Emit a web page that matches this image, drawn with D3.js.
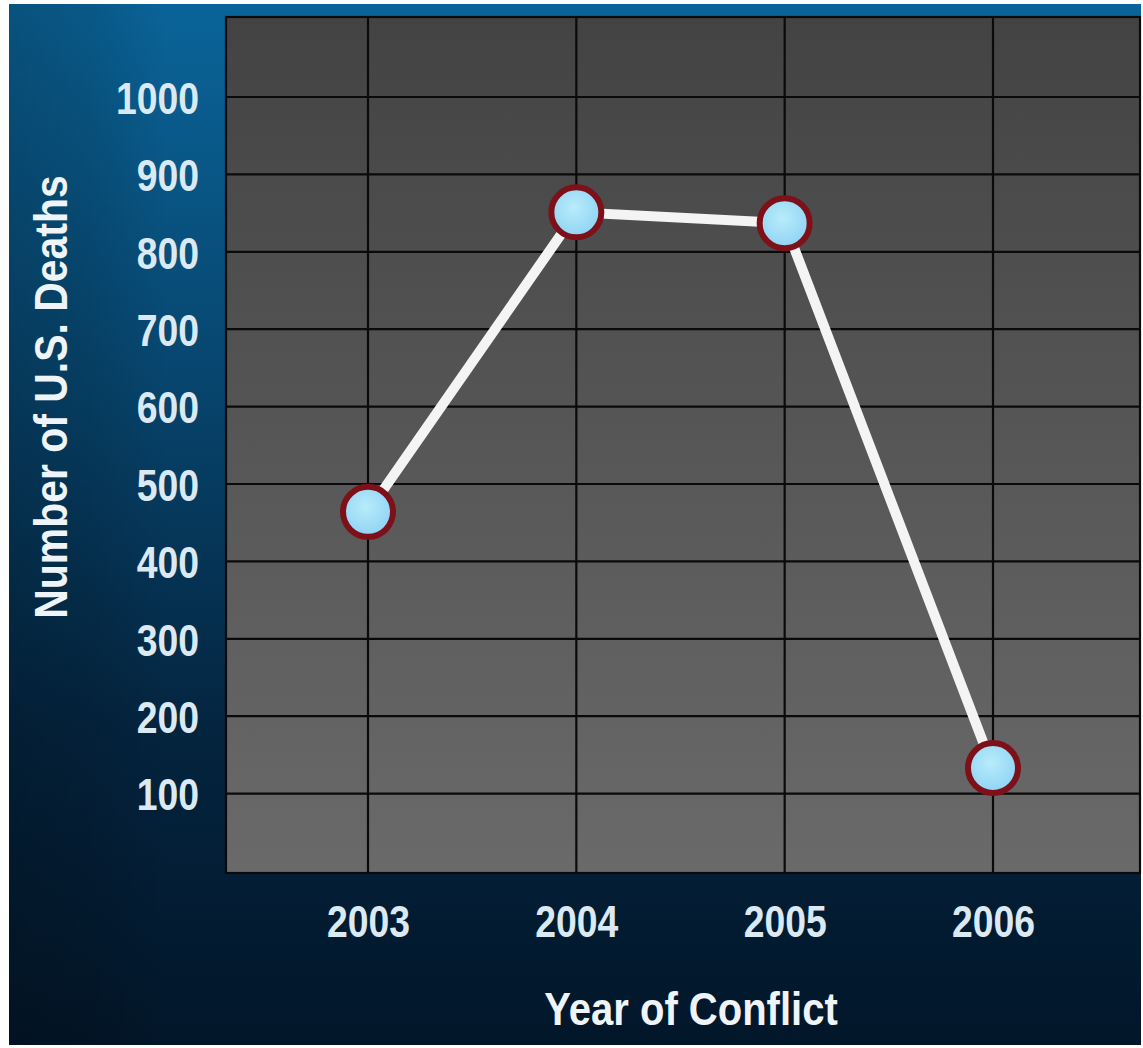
<!DOCTYPE html>
<html><head><meta charset="utf-8">
<script src="https://cdn.jsdelivr.net/npm/d3@7"></script>
<style>html,body{margin:0;padding:0;background:#fff;}svg{display:block;}</style>
</head><body>
<script>
const years = ["2003","2004","2005","2006"];
const deaths = [464, 851, 837, 133];
const yTicks = [100,200,300,400,500,600,700,800,900,1000];
const yTitle = "Number of U.S. Deaths";
const xTitle = "Year of Conflict";

const W = 1143, H = 1048;
const svg = d3.select("body").append("svg").attr("width", W).attr("height", H);
const defs = svg.append("defs");

const bg = defs.append("linearGradient").attr("id","bg").attr("x1",0).attr("y1",0).attr("x2",0).attr("y2",1);
[["0%","#0a6499"],["35%","#07466f"],["70%","#04243f"],["100%","#021629"]].forEach(s=>bg.append("stop").attr("offset",s[0]).attr("stop-color",s[1]));
const lft = defs.append("linearGradient").attr("id","lft").attr("x1",0).attr("y1",0).attr("x2",1).attr("y2",0);
[["0%",0.18],["7%",0.12],["14%",0],["100%",0]].forEach(s=>lft.append("stop").attr("offset",s[0]).attr("stop-color","#000").attr("stop-opacity",s[1]));
const pf = defs.append("linearGradient").attr("id","pf").attr("x1",0).attr("y1",0).attr("x2",0).attr("y2",1);
[["0%","#434343"],["100%","#6a6a6a"]].forEach(s=>pf.append("stop").attr("offset",s[0]).attr("stop-color",s[1]));
const mk = defs.append("radialGradient").attr("id","mk").attr("cx","45%").attr("cy","40%").attr("r","60%");
[["0%","#b8ecfa"],["100%","#8fd3f5"]].forEach(s=>mk.append("stop").attr("offset",s[0]).attr("stop-color",s[1]));

svg.append("rect").attr("x",9).attr("y",4).attr("width",1132).attr("height",1041).attr("fill","url(#bg)");
svg.append("rect").attr("x",9).attr("y",4).attr("width",1132).attr("height",1041).attr("fill","url(#lft)");

const L = 226, T = 17, R = 1140, B = 873;
const x = d3.scalePoint().domain(years).range([368, 993]);
const y = d3.scaleLinear().domain([0, 1000]).range([871, 97]);

svg.append("rect").attr("x",L).attr("y",T).attr("width",R-L).attr("height",B-T).attr("fill","url(#pf)");

const grid = svg.append("g").attr("stroke","#0a0a0a").attr("stroke-width",2.2);
yTicks.forEach(v=>grid.append("line").attr("x1",L).attr("x2",R).attr("y1",y(v)).attr("y2",y(v)));
years.forEach(v=>grid.append("line").attr("y1",T).attr("y2",B).attr("x1",x(v)).attr("x2",x(v)));
grid.append("rect").attr("x",L).attr("y",T).attr("width",R-L).attr("height",B-T).attr("fill","none");

const font = "'Liberation Sans','Arial',sans-serif";
const txtCol = "#dbe9f3";

// y axis
const yAxis = svg.append("g").attr("transform",`translate(${L-27},0)`)
  .call(d3.axisLeft(y).tickValues(yTicks).tickFormat(d3.format("d")).tickSize(0).tickPadding(0));
yAxis.select(".domain").remove();
yAxis.selectAll("text").attr("font-family",font).attr("font-weight","bold").attr("font-size",45)
  .attr("fill",txtCol).attr("dy","0.36em").attr("transform","scale(0.83,1)");

// x axis
const xAxis = svg.append("g").attr("transform",`translate(0,${B})`)
  .call(d3.axisBottom(x).tickSize(0).tickPadding(0));
xAxis.select(".domain").remove();
xAxis.selectAll("text").attr("font-family",font).attr("font-weight","bold").attr("font-size",45)
  .attr("fill",txtCol).attr("dy",null).attr("y",64).attr("transform","scale(0.83,1)");

svg.append("text").attr("transform","translate(691,1025) scale(0.87,1)").attr("text-anchor","middle")
  .attr("font-family",font).attr("font-weight","bold").attr("font-size",46).attr("fill","#eef4f8").text(xTitle);
svg.append("text").attr("transform","translate(67,397) rotate(-90) scale(0.89,1)").attr("text-anchor","middle")
  .attr("font-family",font).attr("font-weight","bold").attr("font-size",46).attr("fill","#eef4f8").text(yTitle);

const pts = years.map((yr,i)=>({yr, v:deaths[i]}));
svg.append("path").datum(pts).attr("fill","none").attr("stroke","#f4f4f4").attr("stroke-width",10)
  .attr("d", d3.line().x(d=>x(d.yr)).y(d=>y(d.v)));
svg.selectAll("circle.m").data(pts).join("circle").attr("class","m")
  .attr("cx",d=>x(d.yr)).attr("cy",d=>y(d.v)).attr("r",25)
  .attr("fill","url(#mk)").attr("stroke","#7d1018").attr("stroke-width",6);
</script>
</body></html>
